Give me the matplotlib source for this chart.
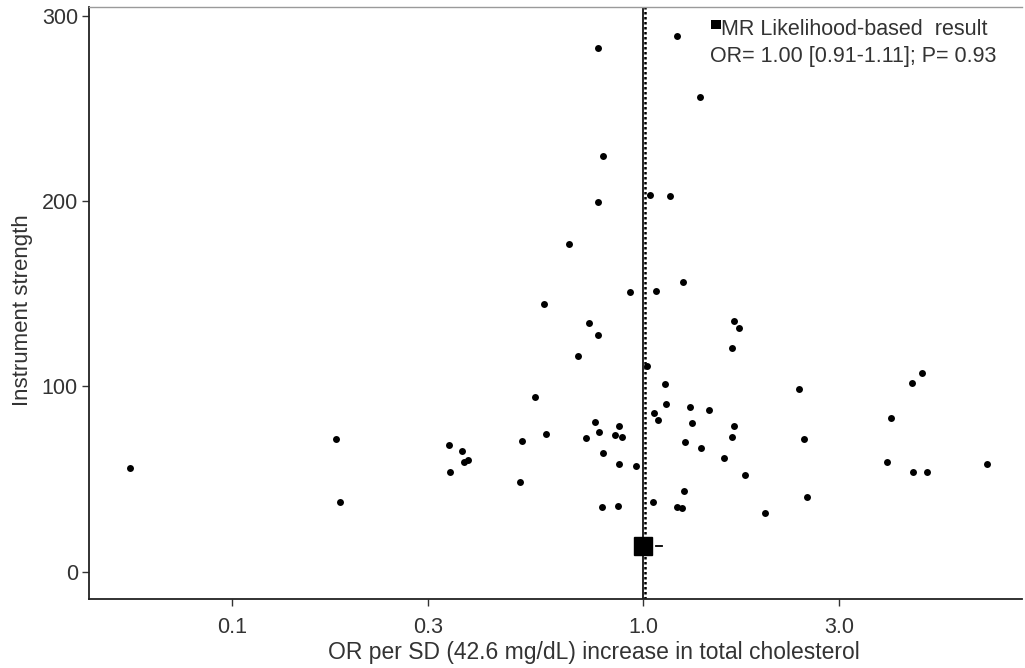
import matplotlib
matplotlib.use("Agg")
import matplotlib.pyplot as plt
from matplotlib.patches import Rectangle
import numpy as np

# Per-SNP estimates (OR) and instrument strength
or_values = [
    0.0565, 0.1788, 0.1832, 0.3379, 0.3398, 0.3634, 0.3675, 0.3758, 0.5077, 0.5029,
    0.5450, 0.5797, 0.7267, 0.7643, 0.7829, 0.7977, 0.8755, 0.8550, 0.8875, 0.8726,
    0.9599, 0.7947, 0.8677, 1.056, 1.131, 1.137, 1.065, 1.089, 1.265, 1.255,
    1.208, 1.242, 1.301, 1.319, 1.384, 1.447, 1.661, 1.646, 1.570, 1.771,
    1.984, 2.397, 2.469, 2.511, 4.006, 3.917, 4.506, 4.531, 4.917, 6.881,
    4.773, 0.7783, 1.212, 1.376, 0.7977, 0.7757, 1.040, 1.163, 0.6607, 0.9298,
    1.074, 1.249, 0.5742, 0.7390, 0.7757, 0.6959, 1.021, 1.665, 1.715, 1.649,
]
strength = [
    56.1, 71.6, 37.4, 68.3, 53.9, 65.3, 59.3, 60.2, 70.7, 48.5,
    94.1, 74.3, 72.0, 80.9, 75.5, 63.9, 78.6, 73.7, 72.5, 58.1,
    57.0, 35.0, 35.4, 37.4, 101.3, 90.5, 85.5, 81.8, 69.8, 43.7,
    35.0, 34.1, 88.7, 80.4, 66.7, 87.2, 78.6, 72.5, 61.5, 52.3,
    31.4, 98.4, 71.6, 40.4, 82.8, 59.2, 101.7, 53.9, 53.9, 58.1,
    107.2, 282.7, 289.5, 256.3, 224.5, 199.6, 203.4, 203.0, 177.2, 151.0,
    151.5, 156.4, 144.4, 134.4, 127.8, 116.2, 111.0, 135.3, 131.5, 121.0,
]

# Pooled MR likelihood-based result
mr_or = 1.00
mr_lo = 0.91
mr_hi = 1.11
mr_p = 0.93
mr_strength = 13.7

x_ticks = [0.1, 0.3, 1.0, 3.0]
x_tick_labels = ["0.1", "0.3", "1.0", "3.0"]
y_ticks = [0, 100, 200, 300]

FONT = ["Liberation Sans", "DejaVu Sans"]
plt.rcParams["font.family"] = FONT
TXT = "#333333"

W, H = 1025, 668
fig = plt.figure(figsize=(W / 100, H / 100), dpi=100)
ax = fig.add_axes([89 / W, 1 - 599.3 / H, (1022 - 89) / W, (599.3 - 7) / H])

ax.set_xscale("log")
ax.set_xlim(0.04488, 8.357)
ax.set_ylim(-15.0, 305.0)

# reference line at OR = 1 and dotted line at the estimate
ax.axvline(1.0, color="black", lw=1.2, zorder=2)
ax.axvline(mr_or * 10 ** (2.2 / 411), color="black", lw=1.8, ls=(0, (1, 1)), zorder=2)

ax.scatter(or_values, strength, s=25, color="black", linewidths=0, zorder=3)

# pooled estimate: big square and upper CI whisker fragment
ax.plot([mr_or], [mr_strength], marker="s", markersize=13.5, color="black", zorder=4, ls="none")
ax.plot([1.075, mr_hi], [mr_strength, mr_strength], color="black", lw=1.3, zorder=4)

ax.set_xticks(x_ticks)
ax.set_xticklabels(x_tick_labels)
ax.xaxis.set_minor_locator(matplotlib.ticker.NullLocator())
ax.set_yticks(y_ticks)

ax.tick_params(axis="both", direction="out", length=5, width=1.0, colors="#333333",
               labelsize=15.5, labelcolor=TXT)
ax.tick_params(axis="x", pad=8)
ax.tick_params(axis="y", pad=3)

for s in ["left", "bottom"]:
    ax.spines[s].set_color("#222222")
    ax.spines[s].set_linewidth(1.3)
ax.spines["top"].set_color("#9a9a9a")
ax.spines["top"].set_linewidth(1.0)
ax.spines["right"].set_visible(False)

fig.text(594 / W, 1 - 652 / H, "OR per SD (42.6 mg/dL) increase in total cholesterol",
         ha="center", va="center", fontsize=16.5, color=TXT)
fig.text(23 / W, 1 - 310 / H, "Instrument strength", rotation=90,
         ha="center", va="center", fontsize=16, color=TXT)

# legend: filled square + text
fig.patches.append(Rectangle((711 / W, 1 - 29 / H), 9.5 / W, 9.5 / H,
                             transform=fig.transFigure, facecolor="black",
                             edgecolor="none", figure=fig))
fig.text(721 / W, 1 - 35 / H, "MR Likelihood-based  result",
         ha="left", va="baseline", fontsize=15.5, color=TXT)
fig.text(710 / W, 1 - 62 / H,
         f"OR= {mr_or:.2f} [{mr_lo:.2f}-{mr_hi:.2f}]; P= {mr_p:.2f}",
         ha="left", va="baseline", fontsize=15.5, color=TXT)

fig.savefig("out.png", dpi=100)
